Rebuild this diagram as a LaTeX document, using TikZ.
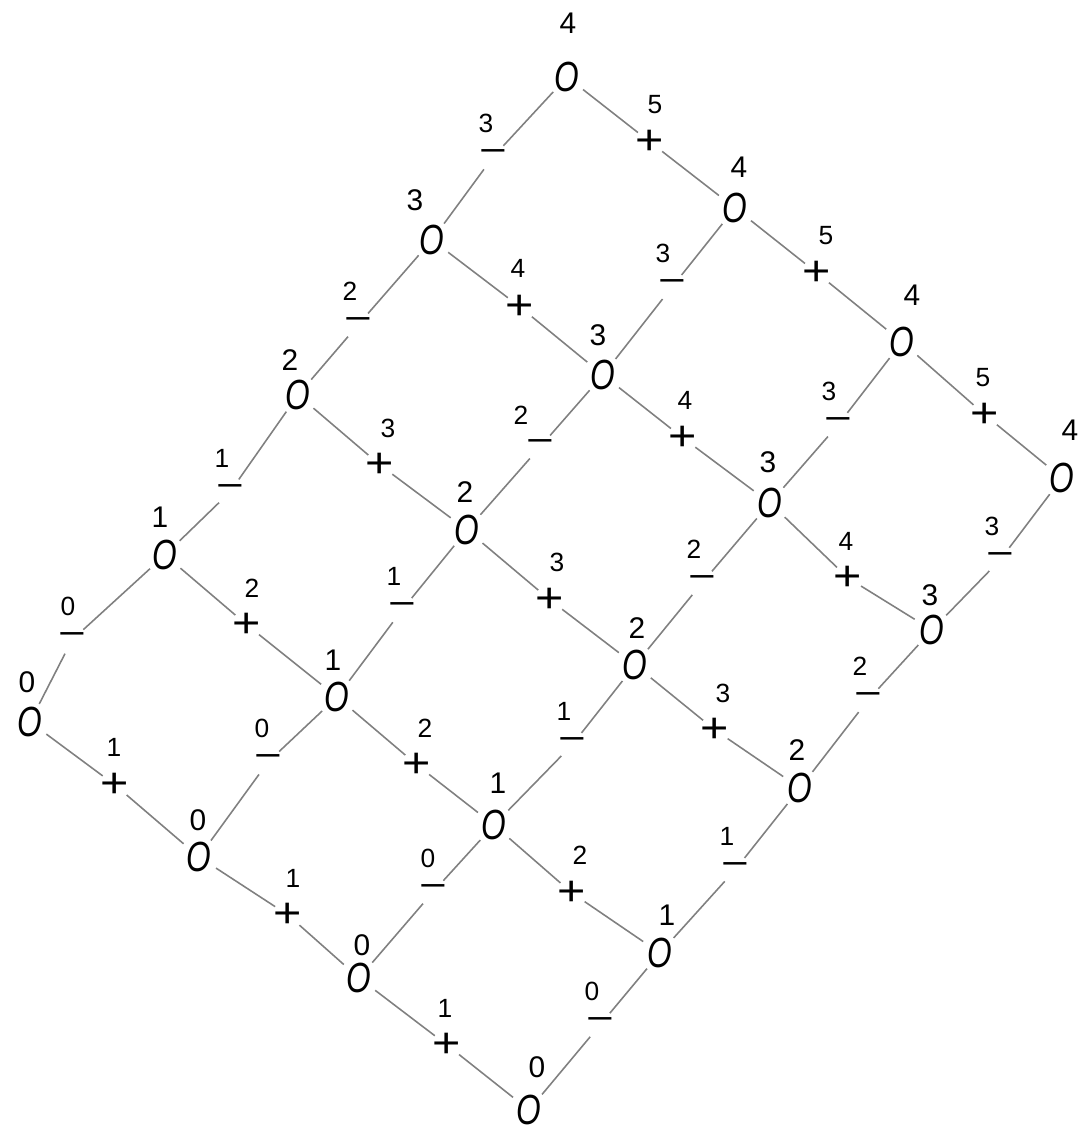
\documentclass[tikz,border=0pt]{standalone}
\usepackage{fontspec}
\usepackage{graphicx}
\setmainfont{Liberation Sans}
\usetikzlibrary{calc}
\begin{document}
\begin{tikzpicture}[x=0.02cm,y=-0.02cm]
\tikzset{
 vtx/.style={circle, inner sep=0pt, minimum size=0.8cm, font=\fontsize{24}{24}\selectfont\itshape},
 psgn/.style={circle, inner sep=-2pt, minimum size=0.6cm, font=\fontsize{24}{24}\selectfont, text height=14.2pt, text depth=-2.6pt},
 msgn/.style={circle, inner sep=0pt, minimum size=0.6cm, font=\fontsize{20}{20}\selectfont, text height=6.6pt, text depth=-5.2pt},
 nlab/.style={inner sep=0pt, font=\fontsize{17}{17}\selectfont},
 elab/.style={inner sep=0pt, font=\fontsize{15}{15}\selectfont},
 link/.style={draw=black!50, line width=0.9pt},
}
\useasboundingbox (0,0) rectangle (1086,1141);
% vertices: i/j/x/y/label x/label y
\foreach \i/\j/\x/\y/\lx/\ly in {
 0/0/567/77/568/23, 0/1/735/208/739/167, 0/2/902/342/912/295, 0/3/1062/478/1070/430,
 1/0/432/240/415/200, 1/1/603/375/598/335, 1/2/770/503/768/462, 1/3/932/630/930/595,
 2/0/298/395/290/360, 2/1/467/530/465/492, 2/2/635/665/637/628, 2/3/800/788/797/750,
 3/0/165/555/160/517, 3/1/337/697/333/660, 3/2/494/825/498/783, 3/3/660/953/667/915,
 4/0/30/722/27/682, 4/1/199/857/198/820, 4/2/359/978/362/945, 4/3/529/1110/537/1067}{
 \node[vtx] (n\i\j) at (\x,\y) {\scalebox{0.75}[1]{O}};
 \pgfmathtruncatemacro\lab{4-\i}
 \node[nlab] (l\i\j) at (\lx,\ly) {\lab};
}
% plus edges: between (i,j) and (i,j+1)
\foreach \i/\j/\x/\y/\lx/\ly in {
 0/0/650/142/655/105, 0/1/817/273/826/236, 0/2/985/415/983/378,
 1/0/520/307/518/268, 1/1/683/438/685/400, 1/2/848/578/846/541,
 2/0/380/465/388/428, 2/1/550/600/557/562, 2/2/715/730/723/693,
 3/0/247/625/252/588, 3/1/417/765/425/728, 3/2/572/893/580/855,
 4/0/115/785/114/747, 4/1/288/915/293/878, 4/2/447/1045/445/1008}{
 \pgfmathtruncatemacro\jj{\j+1}
 \pgfmathtruncatemacro\lab{5-\i}
 \node[psgn] (p\i\j) at (\x,\y) {\scalebox{1.15}[1]{+}};
 \node[elab] (pl\i\j) at (\lx,\ly) {\lab};
 \draw[link] (n\i\j) -- (p\i\j);
 \draw[link] (p\i\j) -- (n\i\jj);
}
% minus edges: between (i,j) and (i+1,j)
\foreach \i/\j/\x/\y/\lx/\ly in {
 0/0/493/157/486/123, 0/1/672/287/663/253, 0/2/838/425/829/391, 0/3/1000/560/992/526,
 1/0/358/325/350/291, 1/1/540/447/521/415, 1/2/702/583/694/549, 1/3/868/700/860/666,
 2/0/230/492/222/458, 2/1/402/610/394/576, 2/2/572/745/564/711, 2/3/735/870/727/836,
 3/0/72/640/68/606, 3/1/268/762/262/728, 3/2/433/892/428/858, 3/3/600/1025/592/991}{
 \pgfmathtruncatemacro\ii{\i+1}
 \pgfmathtruncatemacro\lab{3-\i}
 \node[msgn] (m\i\j) at (\x,\y) {\scalebox{1.35}[1]{−}};
 \node[elab] (ml\i\j) at (\lx,\ly) {\lab};
 \draw[link] (n\i\j) -- (m\i\j);
 \draw[link] (m\i\j) -- (n\ii\j);
}
\end{tikzpicture}
\end{document}
